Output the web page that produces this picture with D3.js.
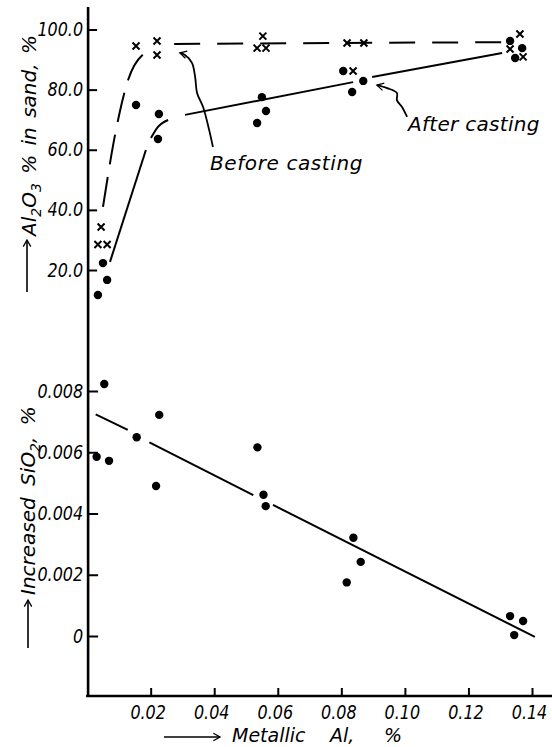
<!DOCTYPE html>
<html>
<head>
<meta charset="utf-8">
<script src="https://cdn.jsdelivr.net/npm/d3@7"></script>
<style>
  body { margin: 0; background: #fff; }
  svg { display: block; }
  text { font-family: "DejaVu Sans", sans-serif; font-style: italic; fill: #000; }
</style>
</head>
<body>
<script>
// tick values / labels
const xTicks = [0.02, 0.04, 0.06, 0.08, 0.10, 0.12, 0.14];
const xTickLabels = ["0.02", "0.04", "0.06", "0.08", "0.10", "0.12", "0.14"];
const alTicks = [100, 80, 60, 40, 20];
const alTickLabels = ["100.0", "80.0", "60.0", "40.0", "20.0"];
const siTicks = [0.008, 0.006, 0.004, 0.002, 0];
const siTickLabels = ["0.008", "0.006", "0.004", "0.002", "0"];

// Al2O3 in sand, before casting (x marks)
const beforeX = [0.0044, 0.0034, 0.0063, 0.0154, 0.0220, 0.0220, 0.0553, 0.0535, 0.0563, 0.0818, 0.0871, 0.0837, 0.1362, 0.1331, 0.1372];
const beforeY = [34.3, 28.5, 28.5, 94.5, 96.2, 91.5, 97.8, 93.8, 93.8, 95.5, 95.5, 86.2, 98.5, 93.5, 90.9];

// Al2O3 in sand, after casting (dots)
const afterX = [0.0154, 0.0226, 0.0223, 0.0050, 0.0063, 0.0034, 0.0550, 0.0563, 0.0535, 0.0806, 0.0869, 0.0834, 0.1331, 0.1369, 0.1347];
const afterY = [74.9, 71.9, 63.6, 22.3, 16.7, 11.7, 77.5, 72.9, 68.9, 86.2, 82.9, 79.2, 96.2, 93.8, 90.5];

// increased SiO2 (dots)
const siX = [0.0054, 0.0030, 0.0069, 0.0156, 0.0227, 0.0217, 0.0536, 0.0555, 0.0562, 0.0838, 0.0861, 0.0817, 0.1331, 0.1372, 0.1344];
const siY = [0.00823, 0.00585, 0.00572, 0.00649, 0.00722, 0.00490, 0.00616, 0.00461, 0.00424, 0.00321, 0.00242, 0.00175, 0.00065, 0.00049, 0.00003];

// hand-drawn curves
const beforeCurveX = [0.0050, 0.0091, 0.0129, 0.0185];
const beforeCurveY = [41.0, 66.6, 83.2, 92.5];
const beforeFlatX = [0.0274, 0.1315];
const beforeFlatY = [95.2, 95.8];
const afterSegX = [[0.0072, 0.0185], [0.0201, 0.0223, 0.0255], [0.0308, 0.0837], [0.0897, 0.1306]];
const afterSegY = [[22.7, 59.9], [63.9, 67.6, 69.9], [71.6, 82.5], [84.2, 92.2]];
const siFitX = [[0.0027, 0.0128], [0.0196, 0.0523], [0.0585, 0.1409]];
const siFitY = [[0.00724, 0.00673], [0.00632, 0.00460], [0.00428, -0.00003]];

// annotation arrows
const beforeArrowX = [0.0396, 0.0384, 0.0365, 0.0346, 0.0340, 0.0330, 0.0308, 0.0292];
const beforeArrowY = [60.9, 66.6, 74.2, 78.9, 84.2, 88.9, 91.5, 92.2];
const afterArrowX = [0.1007, 0.0991, 0.0975, 0.0975, 0.0944, 0.0912];
const afterArrowY = [70.9, 74.2, 76.5, 78.9, 80.5, 81.5];

const width = 552, height = 747;

const svg = d3.select("body").append("svg")
    .attr("width", width)
    .attr("height", height);

svg.append("defs").append("marker")
    .attr("id", "head")
    .attr("markerUnits", "userSpaceOnUse")
    .attr("markerWidth", 20).attr("markerHeight", 20)
    .attr("refX", 0).attr("refY", 0)
    .attr("viewBox", "-12 -10 24 20")
    .attr("orient", "auto")
    .append("path")
    .attr("d", "M-8,-4.5 L0,0 L-8,4.5")
    .attr("fill", "none")
    .attr("stroke", "#000")
    .attr("stroke-width", 1.6);

let x = d3.scaleLinear().domain([0, 0.14]).range([87.1, 532]);
let yAl = d3.scaleLinear().domain([20, 100]).range([270, 29.5]);
let ySi = d3.scaleLinear().domain([0, 0.008]).range([636, 391]);

// frame lines
svg.append("line")
    .attr("x1", x(0) + 1).attr("x2", x(0) + 1)
    .attr("y1", 7).attr("y2", 697)
    .attr("stroke", "#000").attr("stroke-width", 2.6);
svg.append("line")
    .attr("x1", x(0) - 1).attr("x2", width)
    .attr("y1", 696).attr("y2", 696)
    .attr("stroke", "#000").attr("stroke-width", 2.6);

// narrow, tall italic digits: squeeze the glyphs of each label
function styleAxis(g) {
    g.select(".domain").remove();
    g.selectAll(".tick line").attr("stroke", "#000").attr("stroke-width", 2);
    g.selectAll(".tick text")
        .attr("font-family", "'Liberation Sans', Arial, sans-serif")
        .attr("font-style", "italic")
        .attr("font-size", 19)
        .attr("fill", "#000")
        .each(function () {
            let w = this.getComputedTextLength();
            d3.select(this).attr("textLength", w * 0.84).attr("lengthAdjust", "spacingAndGlyphs");
        });
}

svg.append("g")
    .attr("transform", `translate(${x(0) + 1},0)`)
    .call(d3.axisLeft(yAl).tickValues(alTicks).tickFormat((d, i) => alTickLabels[i]).tickSize(-9).tickPadding(5))
    .call(styleAxis);

svg.append("g")
    .attr("transform", `translate(${x(0) + 1},0)`)
    .call(d3.axisLeft(ySi).tickValues(siTicks).tickFormat((d, i) => siTickLabels[i]).tickSize(-10).tickPadding(5))
    .call(styleAxis);

svg.append("g")
    .attr("transform", "translate(0,696)")
    .call(d3.axisBottom(x).tickValues(xTicks).tickFormat((d, i) => xTickLabels[i]).tickSize(-8).tickPadding(10))
    .call(styleAxis)
    .selectAll(".tick text").attr("dx", -3);

// lines
let lineAl = d3.line().x(d => x(d[0])).y(d => yAl(d[1]));
let lineSi = d3.line().x(d => x(d[0])).y(d => ySi(d[1]));
let zip = (xs, ys) => xs.map((v, i) => [v, ys[i]]);

svg.append("path")
    .attr("d", d3.line().x(d => x(d[0])).y(d => yAl(d[1])).curve(d3.curveMonotoneX)(zip(beforeCurveX, beforeCurveY)))
    .attr("fill", "none").attr("stroke", "#000").attr("stroke-width", 2)
    .attr("stroke-dasharray", "30,13");
svg.append("path")
    .attr("d", lineAl(zip(beforeFlatX, beforeFlatY)))
    .attr("fill", "none").attr("stroke", "#000").attr("stroke-width", 2)
    .attr("stroke-dasharray", "26,17");

afterSegX.forEach((xs, i) => {
    svg.append("path")
        .attr("d", d3.line().x(d => x(d[0])).y(d => yAl(d[1])).curve(d3.curveMonotoneX)(zip(xs, afterSegY[i])))
        .attr("fill", "none").attr("stroke", "#000").attr("stroke-width", 2);
});

siFitX.forEach((xs, i) => {
    svg.append("path")
        .attr("d", lineSi(zip(xs, siFitY[i])))
        .attr("fill", "none").attr("stroke", "#000").attr("stroke-width", 2);
});

// points
svg.selectAll(".xmark")
    .data(zip(beforeX, beforeY))
    .enter()
    .append("path")
    .attr("class", "xmark")
    .attr("transform", d => `translate(${x(d[0])},${yAl(d[1])})`)
    .attr("d", "M-3.5,-3.5L3.5,3.5M3.5,-3.5L-3.5,3.5")
    .attr("stroke", "#000").attr("stroke-width", 2);

svg.selectAll(".adot")
    .data(zip(afterX, afterY))
    .enter()
    .append("circle")
    .attr("cx", d => x(d[0]))
    .attr("cy", d => yAl(d[1]))
    .attr("r", 4.2)
    .attr("fill", "#000");

svg.selectAll(".sdot")
    .data(zip(siX, siY))
    .enter()
    .append("circle")
    .attr("cx", d => x(d[0]))
    .attr("cy", d => ySi(d[1]))
    .attr("r", 4.2)
    .attr("fill", "#000");

// annotations
svg.append("path")
    .attr("d", d3.line().x(d => x(d[0])).y(d => yAl(d[1])).curve(d3.curveCatmullRom)(zip(beforeArrowX, beforeArrowY)))
    .attr("fill", "none").attr("stroke", "#000").attr("stroke-width", 1.8)
    .attr("marker-end", "url(#head)");
svg.append("path")
    .attr("d", d3.line().x(d => x(d[0])).y(d => yAl(d[1])).curve(d3.curveCatmullRom)(zip(afterArrowX, afterArrowY)))
    .attr("fill", "none").attr("stroke", "#000").attr("stroke-width", 1.8)
    .attr("marker-end", "url(#head)");

svg.append("text")
    .attr("x", 210).attr("y", 170)
    .attr("font-size", 20)
    .attr("letter-spacing", 0.6)
    .text("Before casting");
svg.append("text")
    .attr("x", 408).attr("y", 131)
    .attr("font-size", 20)
    .attr("letter-spacing", 0.3)
    .text("After casting");

// axis titles
svg.append("line")
    .attr("x1", 164).attr("x2", 220).attr("y1", 737).attr("y2", 737)
    .attr("stroke", "#000").attr("stroke-width", 1.6)
    .attr("marker-end", "url(#head)");
let t0 = svg.append("text")
    .attr("y", 742)
    .attr("font-size", 19);
t0.append("tspan").attr("x", 232).text("Metallic");
t0.append("tspan").attr("x", 330).text("Al,");
t0.append("tspan").attr("x", 384).text("%");

svg.append("line")
    .attr("x1", 27).attr("x2", 27).attr("y1", 292).attr("y2", 240)
    .attr("stroke", "#000").attr("stroke-width", 1.6)
    .attr("marker-end", "url(#head)");
let t1 = svg.append("text")
    .attr("transform", "translate(36,236) rotate(-90)")
    .attr("font-size", 20)
    .attr("word-spacing", 3);
t1.append("tspan").text("Al");
t1.append("tspan").attr("font-size", 14).attr("dy", 5).text("2");
t1.append("tspan").attr("dy", -5).text("O");
t1.append("tspan").attr("font-size", 14).attr("dy", 5).text("3");
t1.append("tspan").attr("dy", -5).text(" % in sand, %");

svg.append("line")
    .attr("x1", 28).attr("x2", 28).attr("y1", 648).attr("y2", 600)
    .attr("stroke", "#000").attr("stroke-width", 1.6)
    .attr("marker-end", "url(#head)");
let t2 = svg.append("text")
    .attr("transform", "translate(35,595) rotate(-90)")
    .attr("font-size", 20)
    .attr("word-spacing", 5);
t2.append("tspan").text("Increased SiO");
t2.append("tspan").attr("font-size", 14).attr("dy", 5).text("2");
t2.append("tspan").attr("dy", -5).text(", %");
</script>
</body>
</html>
